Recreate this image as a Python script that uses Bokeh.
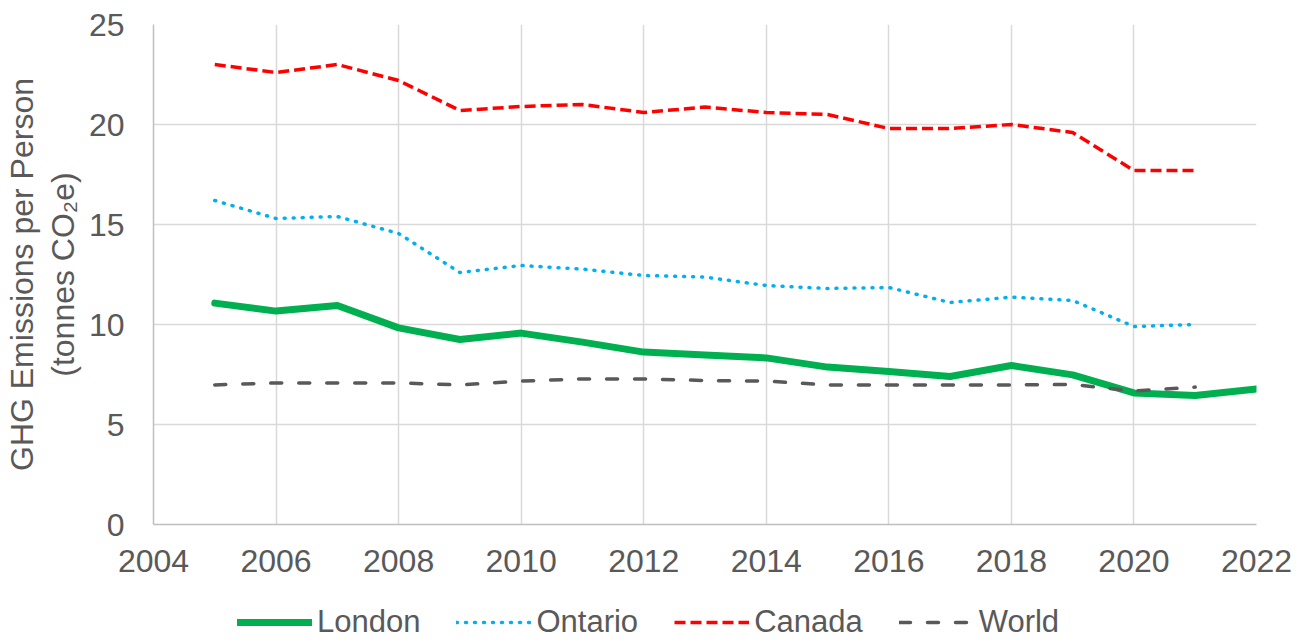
from bokeh.plotting import figure
from bokeh.layouts import column
from bokeh.models import Legend, LegendItem, FixedTicker, Range1d
from bokeh.embed import file_html
from bokeh.resources import INLINE

years = [2005, 2006, 2007, 2008, 2009, 2010, 2011, 2012, 2013, 2014, 2015, 2016, 2017, 2018, 2019, 2020, 2021]
years_london = years + [2022]
london = [11.07, 10.67, 10.95, 9.83, 9.25, 9.57, 9.12, 8.62, 8.48, 8.33, 7.87, 7.65, 7.4, 7.95, 7.48, 6.58, 6.45, 6.78]
ontario = [16.2, 15.3, 15.4, 14.55, 12.6, 12.95, 12.77, 12.45, 12.37, 11.95, 11.8, 11.85, 11.1, 11.37, 11.2, 9.9, 10.0]
canada = [23.0, 22.6, 23.0, 22.2, 20.7, 20.9, 21.0, 20.6, 20.87, 20.6, 20.5, 19.8, 19.8, 20.0, 19.6, 17.7, 17.7]
world = [6.98, 7.08, 7.08, 7.08, 6.98, 7.17, 7.28, 7.28, 7.2, 7.17, 6.98, 6.98, 6.98, 6.98, 7.0, 6.67, 6.87]
series_names = ["London", "Ontario", "Canada", "World"]

x_ticks = [2004, 2006, 2008, 2010, 2012, 2014, 2016, 2018, 2020, 2022]
y_ticks = [0, 5, 10, 15, 20, 25]

FONT = "Liberation Sans"
TXT = "#595959"

STYLES = [
    dict(line_color="#00b050", line_width=7, line_join="round", line_cap="round"),
    dict(line_color="#00b0f0", line_width=3.5, line_dash="1 8", line_cap="round", line_join="round"),
    dict(line_color="#ff0000", line_width=3.5, line_dash="11 5", line_join="round"),
    dict(line_color="#595959", line_width=3.5, line_dash="11 17", line_cap="round", line_join="round"),
]

p = figure(frame_width=1103, frame_height=500, output_backend="svg", toolbar_location=None,
           x_range=Range1d(2004, 2022), y_range=Range1d(0, 25),
           min_border_left=152, min_border_right=48, min_border_top=24, min_border_bottom=66)
p.outline_line_color = None
p.background_fill_color = "white"
p.border_fill_color = "white"

p.line(years_london, london, **STYLES[0])
p.line(years, ontario, **STYLES[1])
p.line(years, canada, **STYLES[2])
p.line(years, world, **STYLES[3])

p.xaxis.ticker = FixedTicker(ticks=x_ticks)
p.yaxis.ticker = FixedTicker(ticks=y_ticks)
for ax in (p.xaxis, p.yaxis):
    ax.axis_line_color = "#bfbfbf"
    ax.axis_line_width = 1.5
    ax.major_tick_line_color = None
    ax.minor_tick_line_color = None
    ax.major_tick_out = 0
    ax.major_tick_in = 0
    ax.minor_tick_out = 0
    ax.major_label_text_font = FONT
    ax.major_label_text_font_size = "32px"
    ax.major_label_text_color = TXT
p.yaxis.major_label_standoff = 29
p.xaxis.major_label_standoff = 25
p.yaxis.axis_label = "GHG Emissions per Person\n(tonnes CO\u2082e)"
p.yaxis.axis_label_text_font = FONT
p.yaxis.axis_label_text_font_size = "32px"
p.yaxis.axis_label_text_font_style = "normal"
p.yaxis.axis_label_text_color = TXT
p.yaxis.axis_label_standoff = 5
p.yaxis.axis_label_text_line_height = 1.15

p.grid.grid_line_color = "#d9d9d9"
p.grid.grid_line_width = 1.5

# legend strip below the chart (legend renderers hold points outside the visible range)
q = figure(width=1303, height=51, output_backend="svg", toolbar_location=None,
           x_range=Range1d(0, 1), y_range=Range1d(0, 1),
           x_axis_location=None, y_axis_location=None,
           min_border=0, min_border_left=0, min_border_right=0, min_border_top=0, min_border_bottom=0)
q.outline_line_color = None
q.grid.visible = False
q.border_fill_color = "white"
q.background_fill_color = "white"
items = []
for name, st in zip(series_names, STYLES):
    r = q.line([-5, -4], [-5, -4], **st)
    items.append(LegendItem(label=name, renderers=[r]))

legend = Legend(items=items, orientation="horizontal", location=(84, 1))
legend.glyph_width = 75
legend.glyph_height = 36
legend.label_height = 36
legend.label_standoff = 5
legend.spacing = 36
legend.padding = 0
legend.margin = 0
legend.border_line_color = None
legend.background_fill_alpha = 0
legend.label_text_font = FONT
legend.label_text_font_size = "31px"
legend.label_text_color = TXT
q.add_layout(legend, "center")

layout = column(p, q, spacing=0)
open("out.html", "w").write(file_html(layout, INLINE))
